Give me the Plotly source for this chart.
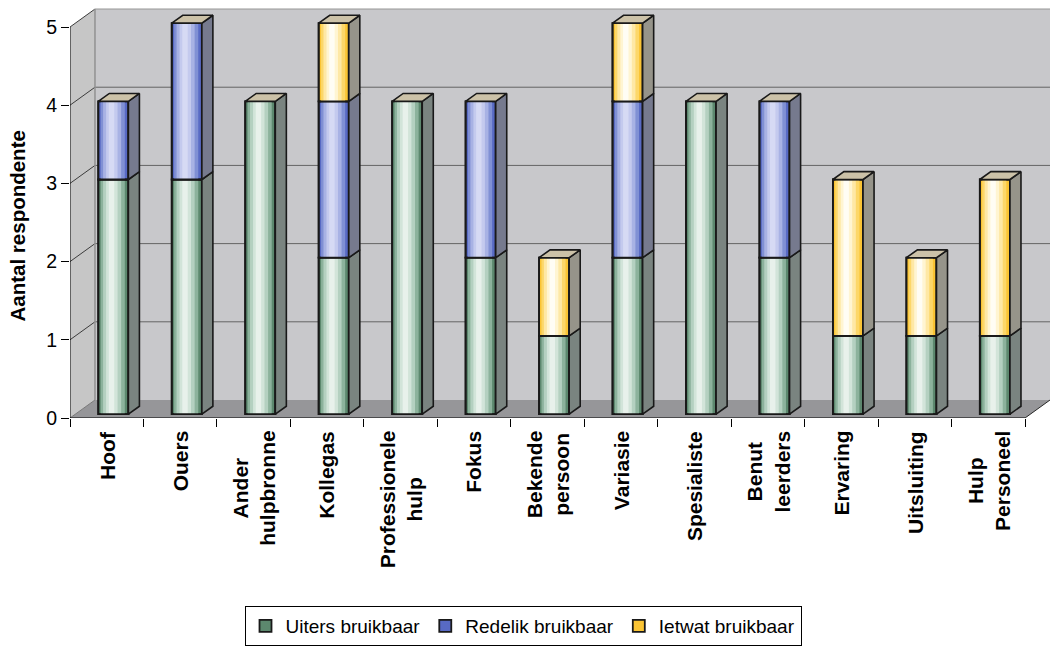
import plotly.graph_objects as go

# ---------------- data ----------------
categories = ["Hoof", "Ouers", "Ander\nhulpbronne", "Kollegas", "Professionele\nhulp",
              "Fokus", "Bekende\npersoon", "Variasie", "Spesialiste", "Benut\nleerders",
              "Ervaring", "Uitsluiting", "Hulp\nPersoneel"]
uiters = [3, 3, 4, 2, 4, 2, 1, 2, 4, 2, 1, 1, 1]
redelik = [1, 2, 0, 2, 0, 2, 0, 2, 0, 2, 0, 0, 0]
ietwat = [0, 0, 0, 1, 0, 0, 1, 1, 0, 0, 2, 1, 2]
series_names = ["Uiters bruikbaar", "Redelik bruikbaar", "Ietwat bruikbaar"]
y_ticks = [0, 1, 2, 3, 4, 5]
y_title = "Aantal respondente"

# ---------------- styling / geometry ----------------
FONT = "Liberation Sans, Arial, sans-serif"
X0, X1 = -0.5, 12.84
Y1 = 410 / 78.2
DX, DY = 0.34, 0.23          # depth of the 3-D box
OFFX, OFFY = 0.09, 0.05      # bar front offset inside the box
BW = 0.41                    # bar width
SDX, SDY = 0.15, 0.10        # bar depth

# gradient layers: (width fraction, shift fraction, colour)
layers = {
    0: [(1.0, 0.0, "rgb(92,136,110)"), (0.80, -0.02, "rgb(140,178,156)"),
        (0.60, -0.04, "rgb(180,208,192)"), (0.38, -0.05, "rgb(210,228,217)"),
        (0.18, -0.06, "rgb(232,241,235)")],
    1: [(1.0, 0.0, "rgb(88,106,196)"), (0.80, -0.02, "rgb(128,144,212)"),
        (0.60, -0.04, "rgb(168,178,228)"), (0.38, -0.05, "rgb(196,202,238)"),
        (0.18, -0.06, "rgb(214,218,244)")],
    2: [(1.0, 0.0, "rgb(250,196,52)"), (0.80, -0.02, "rgb(252,215,105)"),
        (0.60, -0.04, "rgb(254,232,165)"), (0.38, -0.05, "rgb(255,245,210)"),
        (0.18, -0.06, "rgb(255,253,244)")],
}
side_colors = ["rgb(122,132,128)", "rgb(118,122,142)", "rgb(150,148,138)"]
top_color = "rgb(204,194,168)"
EDGE = "rgb(25,25,25)"

series = [uiters, redelik, ietwat]
n = len(categories)

fig = go.Figure()

# bottoms of stacked segments
bottoms = []
acc = [0] * n
for vals in series:
    bottoms.append(acc[:])
    acc = [a + v for a, v in zip(acc, vals)]
totals = acc

# ---- front faces (bars with gradient layers) ----
for s, vals in enumerate(series):
    ys = [v if v > 0 else None for v in vals]
    base = [OFFY + b for b in bottoms[s]]
    for k, (wf, sh, col) in enumerate(layers[s]):
        fig.add_trace(go.Bar(
            x=[i + OFFX + sh * BW for i in range(n)],
            y=ys, base=base, width=wf * BW,
            marker=dict(color=col,
                        line=dict(color=EDGE, width=1.8 if k == 0 else 0)),
            name=series_names[s], showlegend=(k == 0),
            legendgroup=series_names[s], hoverinfo="skip"))
    # outline on top
    fig.add_trace(go.Bar(
        x=[i + OFFX for i in range(n)], y=ys, base=base, width=BW,
        marker=dict(color="rgba(0,0,0,0)", line=dict(color=EDGE, width=1.8)),
        showlegend=False, legendgroup=series_names[s], hoverinfo="skip"))

# ---- side faces ----
for s, vals in enumerate(series):
    xs, ys = [], []
    for i, v in enumerate(vals):
        if v <= 0:
            continue
        xr = i + OFFX + BW / 2
        b = OFFY + bottoms[s][i]
        t = b + v
        xs += [xr, xr + SDX, xr + SDX, xr, xr, None]
        ys += [b, b + SDY, t + SDY, t, b, None]
    fig.add_trace(go.Scatter(x=xs, y=ys, mode="lines", fill="toself",
                             fillcolor=side_colors[s],
                             line=dict(color=EDGE, width=1.6),
                             showlegend=False, hoverinfo="skip"))

# ---- top faces ----
xs, ys = [], []
for i, T in enumerate(totals):
    xl = i + OFFX - BW / 2
    xr = i + OFFX + BW / 2
    t = OFFY + T
    xs += [xl, xl + SDX, xr + SDX, xr, xl, None]
    ys += [t, t + SDY, t + SDY, t, t, None]
fig.add_trace(go.Scatter(x=xs, y=ys, mode="lines", fill="toself",
                         fillcolor=top_color, line=dict(color=EDGE, width=1.6),
                         showlegend=False, hoverinfo="skip"))

# ---------------- box (walls, floor, gridlines) ----------------
shapes = []
top = max(y_ticks)
# back wall
shapes.append(dict(type="rect", xref="x", yref="y", x0=X0 + DX, x1=X1 + 1,
                   y0=DY, y1=top + DY, fillcolor="rgb(200,200,203)",
                   line=dict(width=0), layer="below"))
# left wall
shapes.append(dict(type="path", xref="x", yref="y",
                   path=f"M {X0},0 L {X0},{top} L {X0+DX},{top+DY} L {X0+DX},{DY} Z",
                   fillcolor="rgb(198,198,198)", line=dict(width=0), layer="below"))
# floor
shapes.append(dict(type="path", xref="x", yref="y",
                   path=f"M {X0},0 L {n-0.5},0 L {n-0.5+DX},{DY} L {X0+DX},{DY} Z",
                   fillcolor="rgb(150,150,153)", line=dict(width=0), layer="below"))
# back gridlines
for v in y_ticks[1:]:
    shapes.append(dict(type="line", xref="x", yref="y", x0=X0 + DX, x1=X1 + 1,
                       y0=v + DY, y1=v + DY,
                       line=dict(color="rgb(100,100,100)" if v < top else "rgb(150,150,150)", width=1),
                       layer="below"))
# left-wall gridlines
for v in y_ticks:
    shapes.append(dict(type="line", xref="x", yref="y", x0=X0, x1=X0 + DX,
                       y0=v, y1=v + DY,
                       line=dict(color="rgb(60,60,60)" if v > 0 else "rgb(120,120,120)", width=1),
                       layer="below"))
# back wall left edge
shapes.append(dict(type="line", xref="x", yref="y", x0=X0 + DX, x1=X0 + DX,
                   y0=DY, y1=top + DY, line=dict(color="rgb(145,145,145)", width=1.5),
                   layer="below"))
# front axis lines
shapes.append(dict(type="line", xref="x", yref="y", x0=X0, x1=X0, y0=0, y1=top,
                   line=dict(color="black", width=1)))
shapes.append(dict(type="line", xref="x", yref="y", x0=X0, x1=n - 0.5, y0=0, y1=0,
                   line=dict(color="black", width=1)))
shapes.append(dict(type="line", xref="x", yref="y", x0=n - 0.5, x1=n - 0.5 + DX,
                   y0=0, y1=DY, line=dict(color="rgb(40,40,40)", width=1)))

# ---------------- annotations ----------------
annotations = []
for i, c in enumerate(categories):
    annotations.append(dict(x=i, xref="x", y=-0.026, yref="paper",
                            text="<b>" + c.replace("\n", "<br>") + "</b>",
                            textangle=-90, xanchor="center", yanchor="top",
                            showarrow=False, align="center",
                            font=dict(family=FONT, size=21, color="black")))
annotations.append(dict(x=(17 - 70) / 980, xref="paper", y=(418 - 226.5) / 410, yref="paper",
                        text="<b>" + y_title + "</b>", textangle=-90,
                        xanchor="center", yanchor="middle", showarrow=False,
                        font=dict(family=FONT, size=20.5, color="black")))

fig.update_layout(
    width=1050, height=647,
    margin=dict(l=70, r=0, t=8, b=229),
    paper_bgcolor="white", plot_bgcolor="white",
    barmode="overlay",
    font=dict(family=FONT, color="black"),
    shapes=shapes, annotations=annotations,
    showlegend=True,
    legend=dict(orientation="h", x=(523 - 70) / 980, xanchor="center",
                y=-(606 - 418) / 410, yanchor="top",
                bordercolor="black", borderwidth=1, bgcolor="white",
                font=dict(family=FONT, size=19, color="black"),
                traceorder="normal"),
    xaxis=dict(range=[X0, X1], tickmode="linear", tick0=-0.5, dtick=1,
               ticks="outside", ticklen=8, tickcolor="black", tickwidth=1,
               showticklabels=False, showgrid=False, zeroline=False, showline=False,
               fixedrange=True),
    yaxis=dict(range=[0, Y1], tickmode="array", tickvals=y_ticks,
               ticks="outside", ticklen=8, tickcolor="black", tickwidth=1,
               tickfont=dict(family=FONT, size=19.5, color="black"),
               showgrid=False, zeroline=False, showline=False, fixedrange=True),
)

fig.write_html("out.html")
